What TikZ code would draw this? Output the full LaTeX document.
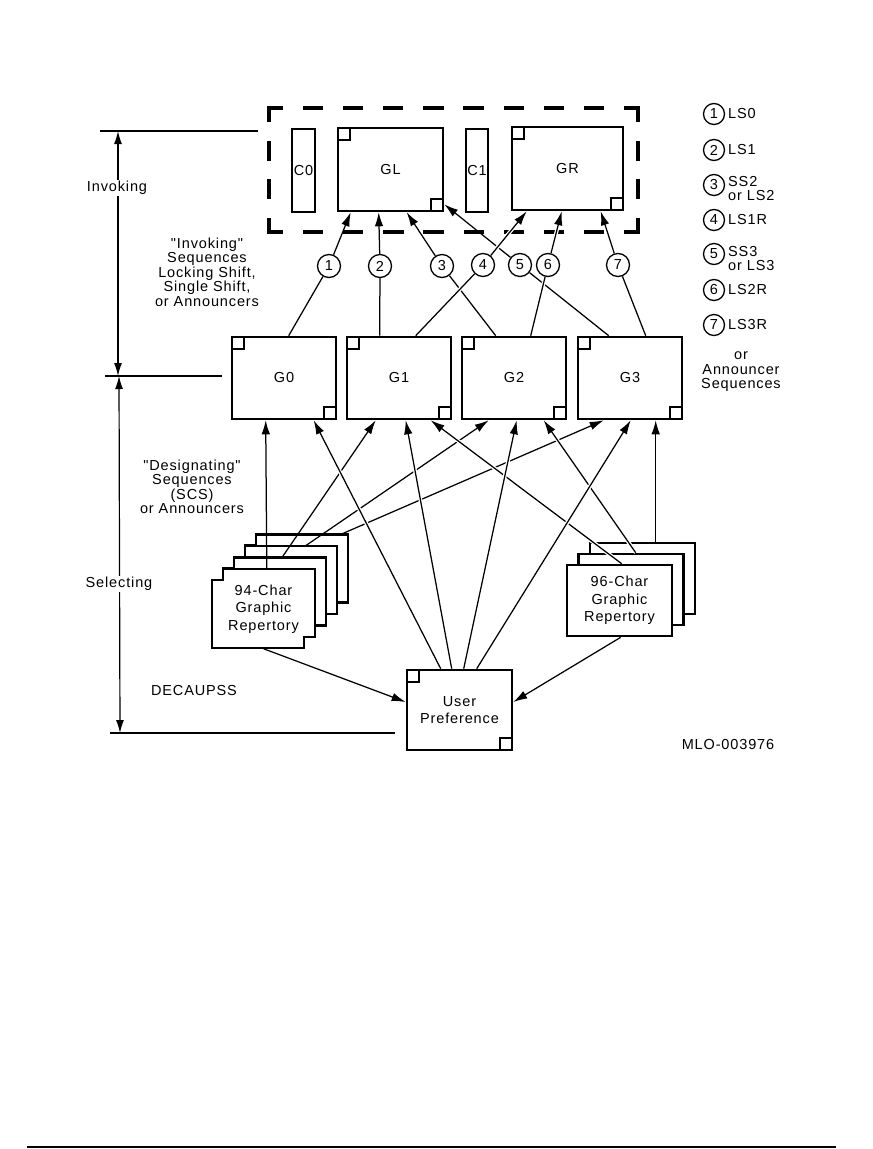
\documentclass[tikz,border=0pt]{standalone}
\usepackage{fontspec}
\newfontfamily\dfont{Liberation Sans}[LetterSpace=6]
\usetikzlibrary{arrows.meta,calc}
\pgfdeclarelayer{back}
\pgfdeclarelayer{lines}
\pgfsetlayers{back,lines,main}
\newcommand{\notchcard}[4]{%
  \filldraw[cardst] (#1,#2+11) -- (#1+11,#2+11) -- (#1+11,#2) -- (#1+#3,#2) -- (#1+#3,#2+#4-11) -- (#1+#3-11,#2+#4-11) -- (#1+#3-11,#2+#4) -- (#1,#2+#4) -- cycle;}
\tikzset{
  box/.style={draw, line width=2.6pt, fill=white, inner sep=0pt},
  corners/.style={path picture={
    \draw[line width=2pt] (path picture bounding box.north west) rectangle ++(12pt,-12pt);
    \draw[line width=2pt] (path picture bounding box.south east) rectangle ++(-12pt,12pt);}},
  cardst/.style={draw, fill=white, line width=2.5pt, line join=miter},
  conn/.style={line width=1.25pt},
  arr/.style={conn, -{Latex[length=14pt,width=8.5pt]}},
  halo/.style={preaction={draw=white, line width=3.8pt, -}},
  num/.style={circle, draw, line width=1.3pt, minimum size=23pt, inner sep=0pt, fill=white},
  lnum/.style={num, minimum size=21pt},
  lab/.style={align=center, inner sep=1pt},
  wide/.style={align=center, font=\dfont\fontsize{14.5}{17.5}\selectfont},
  dimline/.style={line width=1.2pt},
  dimarr/.style={line width=1.2pt, {Latex[length=13pt,width=8pt]}-{Latex[length=13pt,width=8pt]}},
  dashside/.style={line width=3.2pt, line cap=rect},
}
\begin{document}
\begin{tikzpicture}[x=1pt,y=-1pt,font=\dfont\fontsize{14.5}{14.5}\selectfont]
\useasboundingbox (0,0) rectangle (873,1149);

% ---------- boxes ----------
\node[box, minimum width=23pt, minimum height=83pt] (C0) at (303.5,170.5) {C0};
\node[box, corners, minimum width=105pt, minimum height=83pt] (GL) at (390.5,169.5) {GL};
\node[box, minimum width=22pt, minimum height=83pt] (C1) at (477,170.5) {C1};
\node[box, corners, minimum width=111pt, minimum height=83pt] (GR) at (567.5,168.5) {GR};
\foreach \n/\x in {0/284,1/399,2/514,3/630}
  \node[box, corners, minimum width=104pt, minimum height=82pt] (G\n) at (\x,378) {G\n};
\node[box, corners, wide, minimum width=105pt, minimum height=80pt] (UP) at (459.5,710) {User\\Preference};
\node[wide, minimum width=103pt, minimum height=79pt, inner sep=0pt] (R94) at (263.5,609) {94-Char\\Graphic\\Repertory};
\node[box, wide, minimum width=105pt, minimum height=71pt] (R96) at (619.5,600.5) {96-Char\\Graphic\\Repertory};

% ---------- numbered circles ----------
\foreach \i/\x/\y in {1/329/266, 2/380/266, 3/442/266, 4/483/265, 5/520/265, 6/548/265, 7/618/265}
  \node[num] (c\i) at (\x,\y) {\i};

% ---------- legend ----------
\foreach \i/\y in {1/114,2/150,3/185,4/220,5/254,6/290,7/325}
  \node[lnum] (l\i) at (714,\y) {\i};
\node[anchor=west, inner sep=0pt] (t1) at (728,114) {LS0};
\node[anchor=west, inner sep=0pt] (t2) at (728,150) {LS1};
\node[anchor=north west, inner sep=0pt, align=left] (t3) at (728,176) {SS2\\or LS2};
\node[anchor=west, inner sep=0pt] (t4) at (728,220) {LS1R};
\node[anchor=north west, inner sep=0pt, align=left] (t5) at (728,246) {SS3\\or LS3};
\node[anchor=west, inner sep=0pt] (t6) at (728,290) {LS2R};
\node[anchor=west, inner sep=0pt] (t7) at (728,325) {LS3R};
\node[lab] (tor) at (741,372) {or\\Announcer\\Sequences};

% ---------- dimension coordinates ----------
\coordinate (hA1) at (100,131); \coordinate (hA2) at (258,131);
\coordinate (hB1) at (105,376); \coordinate (hB2) at (222,376);
\coordinate (hC1) at (110,733); \coordinate (hC2) at (395,733);
\coordinate (vA1) at (118,131); \coordinate (vA2) at (118,376);
\coordinate (vB1) at (119,376); \coordinate (vB2) at (120,733);
\coordinate (rule1) at (27,1147); \coordinate (rule2) at (836,1147);

% ---------- text labels ----------
\node[lab, fill=white] (invk) at (117,188) {Invoking};
\node[lab] (invseq) at (207,272) {"Invoking"\\Sequences\\Locking Shift,\\Single Shift,\\or Announcers};
\node[lab] (desseq) at (192,487) {"Designating"\\Sequences\\(SCS)\\or Announcers};
\node[lab, fill=white] (sel) at (119,584) {Selecting};
\node[lab] (dec) at (194,690) {DECAUPSS};
\node[lab] (mlo) at (728,744) {MLO-003976};

% ---------- background: dashed frame and card stacks ----------
\begin{pgfonlayer}{back}
\draw[dashside, dash pattern=on 17pt off 23.1pt, dash phase=4.5pt] (269,108) -- (638,108);
\draw[dashside, dash pattern=on 17pt off 21.67pt, dash phase=4.5pt] (638,108) -- (638,232);
\draw[dashside, dash pattern=on 17pt off 23.1pt, dash phase=4.5pt] (638,232) -- (269,232);
\draw[dashside, dash pattern=on 17pt off 21.67pt, dash phase=4.5pt] (269,232) -- (269,108);
\notchcard{245}{534.5}{103}{79}
\notchcard{234}{546}{103}{79}
\notchcard{223}{557.5}{103}{79}
\notchcard{212}{569}{103}{79}
\filldraw[cardst] (590,543) rectangle (695,614);
\filldraw[cardst] (578.5,554) rectangle (683.5,625);
\end{pgfonlayer}

% ---------- connectors ----------
\begin{pgfonlayer}{lines}
\draw[dimline] (hA1) -- (hA2);
\draw[dimline] (hB1) -- (hB2);
\draw[dimline] (hC1) -- (hC2);
\draw[dimarr] (vA1) -- (vA2);
\draw[dimarr] (vB1) -- (vB2);
\draw[line width=1.8pt] (rule1) -- (rule2);

\draw[arr] (c1) -- ($(GL.south west)+(14,0)$);
\draw[conn] (c1) -- ($(G0.north west)+(58,0)$);
\draw[arr] (c2) -- ($(GL.south west)+(42,0)$);
\draw[conn] (c2) -- ($(G1.north west)+(34,0)$);
\draw[arr] (c3) -- ($(GL.south west)+(70,0)$);
\draw[conn] (c3) -- ($(G2.north west)+(35,0)$);
\draw[arr] (c5) -- ($(GL.south east)+(0,-8)$);
\draw[conn] (c5) -- ($(G3.north west)+(32,0)$);
\draw[arr,halo] (c4) -- ($(GR.south west)+(16,0)$);
\draw[conn,halo] (c4) -- ($(G1.north west)+(70,0)$);
\draw[arr,halo] (c6) -- ($(GR.south west)+(51,0)$);
\draw[conn,halo] (c6) -- ($(G2.north west)+(70,0)$);
\draw[arr] (c7) -- ($(GR.south west)+(90,0)$);
\draw[conn] (c7) -- ($(G3.north west)+(69,0)$);

\draw[arr] ($(R94.north west)+(55,0)$) -- ($(G0.south west)+(35,0)$);
\draw[arr] ($(R94.north west)+(70,-11.5)$) -- ($(G1.south west)+(30,0)$);
\draw[arr] ($(R94.north west)+(93,-23)$) -- ($(G2.south west)+(28,0)$);
\draw[arr] ($(R94.north west)+(128,-34.5)$) -- ($(G3.south west)+(27,0)$);
\draw[arr] (R94.south) -- ($(UP.west)+(0,-8)$);

\draw[arr,halo] ($(R96.north west)+(56,0)$) -- ($(G1.south west)+(85,0)$);
\draw[arr,halo] ($(R96.north west)+(70,-11)$) -- ($(G2.south west)+(83,0)$);
\draw[arr,halo] ($(R96.north west)+(90,-22)$) -- ($(G3.south west)+(79,0)$);
\draw[arr,halo] ($(R96.south west)+(55,0)$) -- ($(UP.east)+(0,-8)$);

\draw[arr,halo] ($(UP.north west)+(35,0)$) -- ($(G0.south west)+(83,0)$);
\draw[arr,halo] ($(UP.north west)+(46,0)$) -- ($(G1.south west)+(60,0)$);
\draw[arr,halo] ($(UP.north west)+(58,0)$) -- ($(G2.south west)+(56,0)$);
\draw[arr,halo] ($(UP.north west)+(71,0)$) -- ($(G3.south west)+(54,0)$);
\end{pgfonlayer}
\end{tikzpicture}
\end{document}
